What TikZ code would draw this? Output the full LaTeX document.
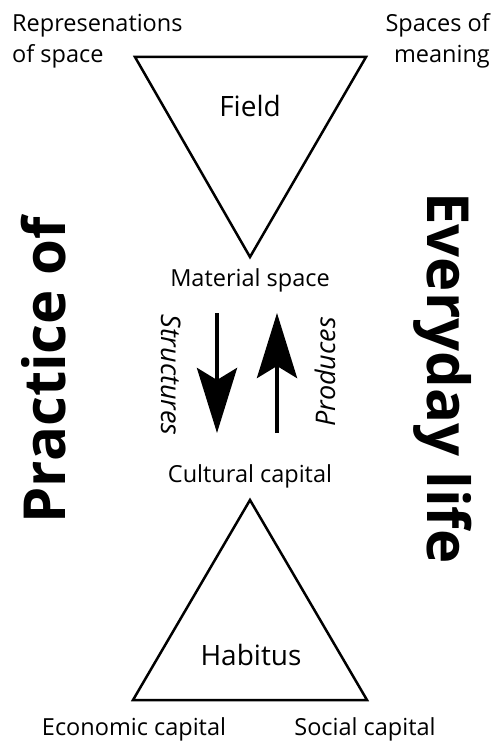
\documentclass[tikz,border=0pt]{standalone}
\usepackage{fontspec}
\setmainfont{Open Sans}
\usetikzlibrary{arrows.meta}
\begin{document}
\begin{tikzpicture}[x=1pt,y=-1pt,
  tri/.style={line width=2.5pt, line join=miter},
  lbl/.style={font=\fontsize{23.5}{31}\selectfont, inner sep=0pt},
  big/.style={font=\fontsize{28}{34}\selectfont, inner sep=0pt},
  verb/.style={font=\fontsize{27}{30}\selectfont\itshape, inner sep=0pt},
  side/.style={font=\fontsize{58}{62}\selectfont\bfseries, inner sep=0pt},
  arr/.style={line width=4.5pt, -{Stealth[length=65pt, width=40pt, inset=12pt]}}]
\useasboundingbox (0,0) rectangle (497,741);
% upper triangle
\coordinate (f1) at (135,57);
\coordinate (f2) at (366,57);
\coordinate (f3) at (250,257);
\draw[tri] (f1) -- (f2) -- (f3) -- cycle;
\node[big, anchor=base] (field) at (250,117) {Field};
% lower triangle
\coordinate (h1) at (250,500);
\coordinate (h2) at (367,700);
\coordinate (h3) at (133,700);
\draw[tri] (h1) -- (h2) -- (h3) -- cycle;
\node[big, anchor=base] (habitus) at (251,665) {Habitus};
% corner labels
\node[lbl, anchor=base west, align=left] (rep) at (12,63) {Represenations\\of space};
\node[lbl, anchor=base east, align=right] (mean) at (490,63) {Spaces of\\meaning};
\node[lbl, anchor=base] (econ) at (134,735) {Economic capital};
\node[lbl, anchor=base] (soc) at (365,735) {Social capital};
% middle
\node[lbl, anchor=base] (mat) at (250,286) {Material space};
\node[lbl, anchor=base] (cult) at (250,482) {Cultural capital};
\coordinate (d1) at (217,313);
\coordinate (d2) at (217,433);
\coordinate (u1) at (277,433);
\coordinate (u2) at (277,313);
\draw[arr] (d1) -- (d2);
\draw[arr] (u1) -- (u2);
\node[verb, rotate=-90, anchor=base] (str) at (161,375) {Structures};
\node[verb, rotate=90, anchor=base] (prod) at (335,372) {Produces};
% side titles
\node[side, rotate=90, anchor=base] (prac) at (65,370) {Practice of};
\node[side, rotate=-90, anchor=base] (every) at (427,378) {Everyday life};
\end{tikzpicture}
\end{document}
